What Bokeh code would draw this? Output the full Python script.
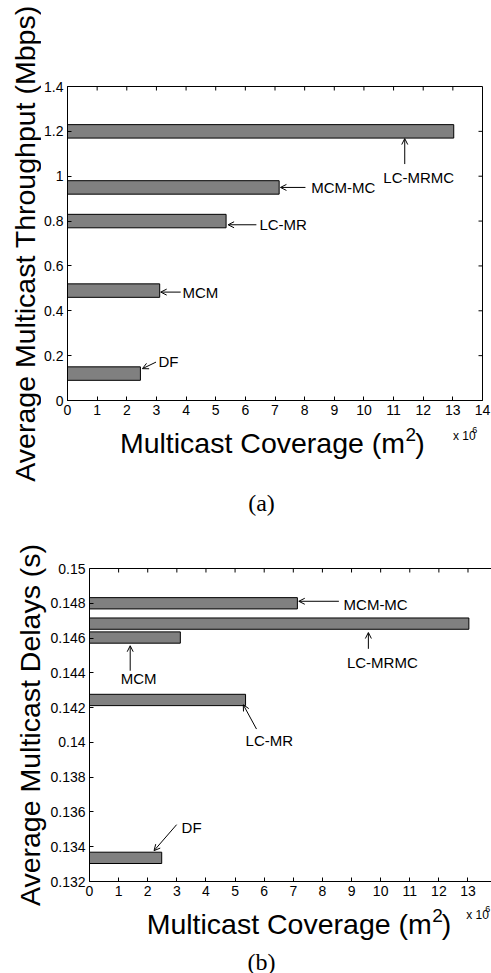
import math
from bokeh.plotting import figure
from bokeh.models import Range1d, LinearAxis, FixedTicker, Label, Arrow, OpenHead
from bokeh.layouts import column, row
from bokeh.embed import file_html
from bokeh.resources import INLINE

# ---------------- data ----------------
methods = ["DF", "MCM", "LC-MR", "MCM-MC", "LC-MRMC"]
# multicast coverage in units of 10^6 m^2
coverage_a = [2.46, 3.11, 5.35, 7.14, 13.03]
throughput_a = [0.12, 0.49, 0.80, 0.95, 1.20]          # Mbps
coverage_b = [2.48, 3.12, 5.36, 7.14, 13.03]
delay_b = [0.13336, 0.14603, 0.14244, 0.14800, 0.14683]  # s

x_ticks_a = list(range(0, 15))
y_ticks_a = [0, 0.2, 0.4, 0.6, 0.8, 1, 1.2, 1.4]
y_tick_labels_a = ["0", "0.2", "0.4", "0.6", "0.8", "1", "1.2", "1.4"]
x_ticks_b = list(range(0, 15))
y_ticks_b = [0.132, 0.134, 0.136, 0.138, 0.14, 0.142, 0.144, 0.146, 0.148, 0.15]
y_tick_labels_b = ["0.132", "0.134", "0.136", "0.138", "0.14", "0.142",
                   "0.144", "0.146", "0.148", "0.15"]

# x title pieces: main text, superscript, closing text
x_title_parts = ("Multicast Coverage (m", "2", ")")
y_title_a = "Average Multicast Throughput (Mbps)"
y_title_b = "Average Multicast Delays (s)"

# ---------------- style / layout ----------------
FONT = "Liberation Sans"
SERIF = "Liberation Serif"
TOTAL_W = 491
TICK_LEN = 4
BAR_FILL = "#808080"
TITLE_PX = 28.5
SUP_PX = 19

# Liberation Sans (Arial-metric) advance widths in em/1000
ADV = {"M": 833, "u": 556, "l": 222, "t": 278, "i": 222, "c": 500, "a": 556,
       "s": 500, " ": 278, "C": 722, "o": 556, "v": 500, "e": 556, "r": 333,
       "g": 556, "(": 333, "m": 833, ")": 333, "2": 556}


def text_width(s, px):
    return sum(ADV[ch] for ch in s) / 1000.0 * px


# panel (a) geometry (pixels)
YLAB_A_W = 41
A_LEFT, A_RIGHT, A_TOP, A_FH, A_BOTTOM = 26, 9, 86, 314, 22
XLAB_A_H, CAP_A_H = 66, 32
A_XR, A_YR = (0, 14), (0, 1.4)
# panel (b) geometry (pixels)
YLAB_B_W = 47
B_LEFT, B_RIGHT, B_TOP, B_FH, B_BOTTOM = 40, 0, 48, 313, 22
XLAB_B_H, CAP_B_H = 37, 33
B_YR = (0.132, 0.15)
B_PX_PER_UNIT = 29.26

# annotation offsets in pixels relative to bar end (dx right+, dy down+)
# (tail dx, tail dy, head dx, head dy, text dx, text dy, align)
ann_a = {
    "DF":      (15.6, -11.5, 2.0, -4.9, 18.0, -12.2, "left"),
    "MCM":     (21.0, 1.5, 1.0, 1.5, 22.7, 1.5, "left"),
    "LC-MR":   (30.3, 3.7, 2.0, 3.7, 33.3, 3.7, "left"),
    "MCM-MC":  (26.3, 0.0, 1.3, 0.0, 32.0, 0.0, "left"),
    "LC-MRMC": (-49.0, 32.7, -49.0, 7.2, -35.0, 46.4, "center"),
}
ann_b = {
    "DF":      (15.0, -33.2, -7.7, -7.2, 20.0, -29.9, "left"),
    "MCM":     (-50.4, 33.2, -50.4, 8.2, -42.0, 41.2, "center"),
    "LC-MR":   (11.0, 29.1, -2.3, 4.8, 0.0, 40.8, "left"),
    "MCM-MC":  (41.7, -2.0, 1.4, -2.0, 46.4, 1.3, "left"),
    "LC-MRMC": (-101.0, 25.2, -101.0, 8.9, -87.0, 38.9, "center"),
}


def text_fig(w, h):
    f = figure(width=w, height=h, x_range=Range1d(0, w), y_range=Range1d(h, 0),
               output_backend="svg", toolbar_location=None, min_border=0,
               x_axis_location=None, y_axis_location=None)
    f.grid.visible = False
    f.outline_line_color = None
    f.background_fill_color = "white"
    f.border_fill_color = "white"
    return f


def label(f, x, y, text, size, font=FONT, align="left", baseline="middle", angle=0.0):
    f.add_layout(Label(x=x, y=y, text=text, text_font=font, text_font_size=size,
                       text_align=align, text_baseline=baseline, angle=angle,
                       text_color="black"))


def x_title(f, cx, ymid):
    main, sup, tail = x_title_parts
    w_main = text_width(main, TITLE_PX)
    w_sup = text_width(sup, SUP_PX)
    w_tail = text_width(tail, TITLE_PX)
    join = cx - (w_main + w_sup + w_tail) / 2 + w_main
    base = ymid + 0.3465 * TITLE_PX          # baseline of the main text
    sup_mid = base - 11.5 - 0.3465 * SUP_PX   # raised superscript
    label(f, join, ymid, main, f"{TITLE_PX}px", align="right")
    label(f, join + 0.5, sup_mid, sup, f"{SUP_PX}px", align="left")
    label(f, join + 0.5 + w_sup, ymid, tail, f"{TITLE_PX}px", align="left")


def style_axis(ax):
    ax.axis_line_color = "black"
    ax.axis_line_width = 1
    ax.major_tick_in = TICK_LEN
    ax.major_tick_out = 0
    ax.major_tick_line_color = "black"
    ax.minor_tick_line_color = None
    ax.major_label_text_font = FONT
    ax.major_label_text_font_size = "14px"
    ax.major_label_text_color = "black"
    ax.major_label_standoff = 4


def main_fig(w, left, right, top, fh, bottom, xr, yr, xticks, yticks, ylabels, outline):
    p = figure(width=w, height=top + fh + bottom, x_range=Range1d(*xr), y_range=Range1d(*yr),
               output_backend="svg", toolbar_location=None,
               min_border_left=left, min_border_right=right,
               min_border_top=top, min_border_bottom=bottom)
    p.grid.visible = False
    p.background_fill_color = "white"
    p.border_fill_color = "white"
    p.outline_line_color = "black" if outline else None
    p.outline_line_width = 1
    p.xaxis.ticker = FixedTicker(ticks=xticks)
    p.yaxis.ticker = FixedTicker(ticks=yticks)
    p.yaxis.major_label_overrides = {t: l for t, l in zip(yticks, ylabels)}
    for ax in p.xaxis + p.yaxis:
        style_axis(ax)
    fw = w - left - right
    sx = fw / (xr[1] - xr[0])
    sy = fh / (yr[1] - yr[0])
    # inward tick marks along the top edge
    top_t = [t for t in xticks if xr[0] < t < xr[1]]
    p.segment(x0=top_t, y0=[yr[1]] * len(top_t), x1=top_t,
              y1=[yr[1] - TICK_LEN / sy] * len(top_t), line_color="black", line_width=1)
    return p, sx, sy


def add_bars(p, cov, val, bar_h):
    p.hbar(y=val, left=0, right=cov, height=bar_h, fill_color=BAR_FILL,
           line_color="black", line_width=1)


def add_annotations(p, cov, val, ann, sx, sy):
    for name, x, y in zip(methods, cov, val):
        tdx, tdy, hdx, hdy, xdx, xdy, align = ann[name]
        p.add_layout(Arrow(end=OpenHead(size=6, line_width=1, line_color="black"),
                           x_start=x + tdx / sx, y_start=y - tdy / sy,
                           x_end=x + hdx / sx, y_end=y - hdy / sy,
                           line_width=1, line_color="black"))
        p.add_layout(Label(x=x + xdx / sx, y=y - xdy / sy, text=name,
                           text_font=FONT, text_font_size="15px",
                           text_align=align, text_baseline="middle",
                           text_color="black"))


# ---------------- panel (a) ----------------
MAIN_A_W = TOTAL_W - YLAB_A_W
pa, sx_a, sy_a = main_fig(MAIN_A_W, A_LEFT, A_RIGHT, A_TOP, A_FH, A_BOTTOM, A_XR, A_YR,
                          x_ticks_a, y_ticks_a, y_tick_labels_a, True)
# inward ticks along the right edge
r_t = [t for t in y_ticks_a if A_YR[0] < t < A_YR[1]]
pa.segment(x0=[A_XR[1]] * len(r_t), y0=r_t, x1=[A_XR[1] - TICK_LEN / sx_a] * len(r_t), y1=r_t,
           line_color="black", line_width=1)
add_bars(pa, coverage_a, throughput_a, 0.06)
add_annotations(pa, coverage_a, throughput_a, ann_a, sx_a, sy_a)

main_a_h = A_TOP + A_FH + A_BOTTOM
ylab_a = text_fig(YLAB_A_W, main_a_h + XLAB_A_H)
label(ylab_a, 24, A_TOP + A_FH / 2, y_title_a, f"{TITLE_PX}px", align="center",
      angle=math.pi / 2)

xlab_a = text_fig(MAIN_A_W, XLAB_A_H)
x_title(xlab_a, A_LEFT + (MAIN_A_W - A_LEFT - A_RIGHT) / 2, 20)
label(xlab_a, 459 - YLAB_A_W, 13, "x 10", "12px")
label(xlab_a, 480 - YLAB_A_W, 7, "6", "9px")

cap_a = text_fig(TOTAL_W, CAP_A_H)
label(cap_a, 261, 14, "(a)", "24px", font=SERIF, align="center")

# ---------------- panel (b) ----------------
MAIN_B_W = TOTAL_W - YLAB_B_W
B_XR = (0, (MAIN_B_W - B_LEFT - B_RIGHT) / B_PX_PER_UNIT)
pb, sx_b, sy_b = main_fig(MAIN_B_W, B_LEFT, B_RIGHT, B_TOP, B_FH, B_BOTTOM, B_XR, B_YR,
                          x_ticks_b, y_ticks_b, y_tick_labels_b, False)
top_axis = LinearAxis(ticker=FixedTicker(ticks=[]))
top_axis.axis_line_color = "black"
top_axis.major_tick_line_color = None
top_axis.minor_tick_line_color = None
pb.add_layout(top_axis, "above")
add_bars(pb, coverage_b, delay_b, 0.00065)
add_annotations(pb, coverage_b, delay_b, ann_b, sx_b, sy_b)

main_b_h = B_TOP + B_FH + B_BOTTOM
ylab_b = text_fig(YLAB_B_W, main_b_h + XLAB_B_H)
label(ylab_b, 29, B_TOP + B_FH / 2, y_title_b, f"{TITLE_PX}px", align="center",
      angle=math.pi / 2)

xlab_b = text_fig(MAIN_B_W, XLAB_B_H)
x_title(xlab_b, 292.5 - YLAB_B_W, 20.5)
label(xlab_b, 463 - YLAB_B_W, 11, "x 10", "12px")
label(xlab_b, 484 - YLAB_B_W, 5, "6", "9px")

cap_b = text_fig(TOTAL_W, CAP_B_H)
label(cap_b, 261, 21, "(b)", "24px", font=SERIF, align="center")

layout = column(
    row(ylab_a, column(pa, xlab_a)),
    cap_a,
    row(ylab_b, column(pb, xlab_b)),
    cap_b,
)
open("out.html", "w").write(file_html(layout, INLINE))
